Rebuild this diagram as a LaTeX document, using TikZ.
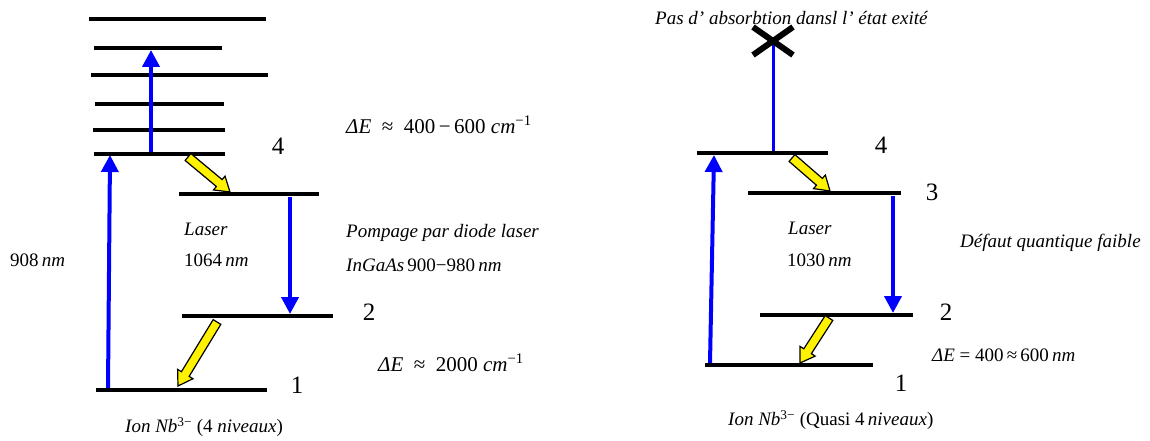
\documentclass[tikz,border=0pt]{standalone}
\usepackage{fontspec}
\setmainfont{Liberation Serif}
\usetikzlibrary{calc,arrows.meta}
\tikzset{
  level/.style={line width=4pt},
  bluearrow/.style={draw=blue, line width=4pt, -{Triangle[width=17pt,length=17pt]}},
  yarrow/.style={draw=black, fill=yellow, line width=1.2pt, line join=miter},
  lbl/.style={inner sep=0pt, anchor=west, font=\fontsize{19}{21}\selectfont},
  mlbl/.style={inner sep=0pt, anchor=west, font=\fontsize{21}{23}\selectfont},
  num/.style={inner sep=0pt, font=\fontsize{25}{27}\selectfont},
}
\newcommand\fatarrow[2]{%
  \coordinate (fa-c) at ($(#2)!14pt!(#1)$);
  \draw[yarrow] ($(#1)!4.5pt!90:(#2)$) -- ($(fa-c)!4.5pt!-90:(#1)$) -- ($(fa-c)!9pt!-90:(#1)$) -- (#2)
    -- ($(fa-c)!9pt!90:(#1)$) -- ($(fa-c)!4.5pt!90:(#1)$) -- ($(#1)!4.5pt!-90:(#2)$) -- cycle;}
\begin{document}
\begin{tikzpicture}[x=1pt,y=-1pt]
\useasboundingbox (0,0) rectangle (1150,441);
% ---------- left diagram : levels ----------
\draw[level] (89,19) -- (266,19);
\draw[level] (94,48) -- (222,48);
\draw[level] (91,75) -- (268,75);
\draw[level] (95,104) -- (224,104);
\draw[level] (93,130) -- (225,130);
\draw[level] (94,154) -- (225,154);
\draw[level] (179,194) -- (319,194);
\draw[level] (182,316) -- (333,316);
\draw[level] (96,390) -- (267,390);
% coordinates
\coordinate (Lp0) at (108,388);
\coordinate (Lp1) at (110,155);
\coordinate (Lu0) at (151,152);
\coordinate (Lu1) at (151,50);
\coordinate (Ld0) at (290,197);
\coordinate (Ld1) at (290,314);
\coordinate (Ly10) at (188,157);
\coordinate (Ly11) at (230,192);
\coordinate (Ly20) at (217,322);
\coordinate (Ly21) at (178,386);
% arrows
\draw[bluearrow] (Lp0) -- (Lp1);
\draw[bluearrow] (Lu0) -- (Lu1);
\draw[bluearrow] (Ld0) -- (Ld1);
\fatarrow{Ly10}{Ly11}
\fatarrow{Ly20}{Ly21}
% labels
\node[num] (n4L) at (278,146) {4};
\node[num] (n2L) at (369,312) {2};
\node[num] (n1L) at (297,385) {1};
\node[mlbl] (dE1) at (346,125) {\textit{ΔE}\ \ ≈\ \ 400\,−\,600\ \textit{cm}\textsuperscript{−1}};
\node[lbl] (pomp) at (346,233) {\textit{Pompage par diode laser}};
\node[lbl] (ingaas) at (346,265) {\textit{InGaAs}\,900−980\,\textit{nm}};
\node[mlbl] (dE2) at (378,363) {\textit{ΔE}\ \ ≈\ \ 2000\ \textit{cm}\textsuperscript{−1}};
\node[lbl] (p908) at (10,260) {908\,\textit{nm}};
\node[lbl] (lasL) at (184,229) {\textit{Laser}};
\node[lbl] (l1064) at (184,260) {1064\,\textit{nm}};
\node[lbl] (capL) at (125,427) {\textit{Ion Nb}\textsuperscript{3−} (4 \textit{niveaux})};
% ---------- right diagram ----------
\draw[level] (697,153) -- (828,153);
\draw[level] (748,193) -- (901,193);
\draw[level] (760,315) -- (913,315);
\draw[level] (705,365) -- (873,365);
\coordinate (Rp0) at (710,363);
\coordinate (Rp1) at (714,155);
\coordinate (Ru0) at (773,151);
\coordinate (Ru1) at (773,42);
\coordinate (Rd0) at (893,196);
\coordinate (Rd1) at (893,313);
\coordinate (Ry10) at (792,158);
\coordinate (Ry11) at (830,191);
\coordinate (Ry20) at (829,318);
\coordinate (Ry21) at (800,363);
\node[lbl] (title) at (655,18) {\textit{Pas d' absorbtion dansl l' état exité}};
\draw[bluearrow] (Rp0) -- (Rp1);
\draw[draw=blue, line width=3pt] (Ru0) -- (Ru1);
\draw[line width=6pt] (753,27) -- (793,55);
\draw[line width=6pt] (753,55) -- (793,27);
\draw[bluearrow] (Rd0) -- (Rd1);
\fatarrow{Ry10}{Ry11}
\fatarrow{Ry20}{Ry21}
\node[num] (n4R) at (881,145) {4};
\node[num] (n3R) at (932,192) {3};
\node[num] (n2R) at (946,312) {2};
\node[num] (n1R) at (901,383) {1};
\node[lbl] (lasR) at (788,228) {\textit{Laser}};
\node[lbl] (l1030) at (787,260) {1030\,\textit{nm}};
\node[lbl] (defaut) at (960,243) {\textit{Défaut quantique faible}};
\node[lbl] (dE3) at (932,355) {\textit{ΔE}\ =\ 400\,≈\,600\,\textit{nm}};
\node[lbl] (capR) at (728,420) {\textit{Ion Nb}\textsuperscript{3−} (Quasi 4\,\textit{niveaux})};
\end{tikzpicture}
\end{document}
